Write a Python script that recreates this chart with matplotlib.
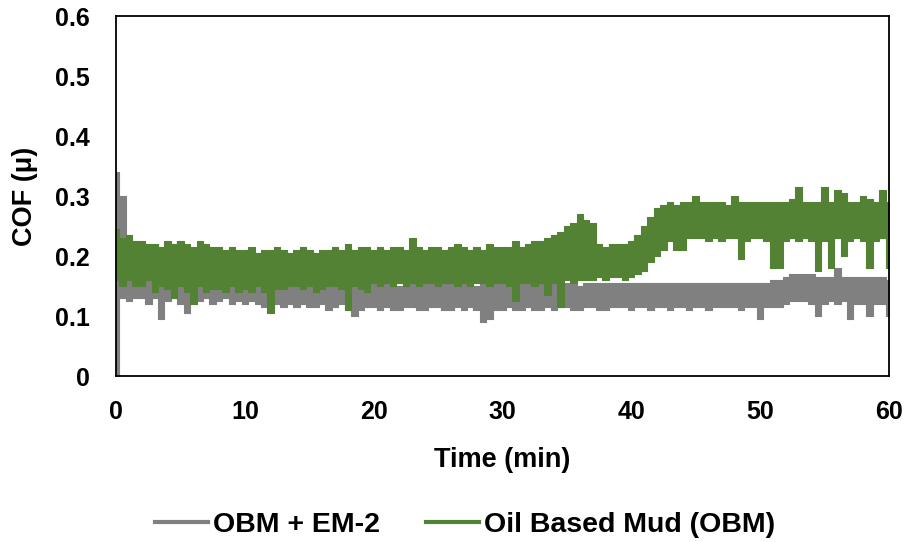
import numpy as np
import matplotlib
matplotlib.use("Agg")
import matplotlib.pyplot as plt
from matplotlib.lines import Line2D

plt.rcParams['font.family'] = ['Liberation Sans', 'DejaVu Sans']
plt.rcParams['font.weight'] = 'bold'

# readings grouped every 0.5 min; each group keeps its lowest and highest COF
time_min = np.arange(0, 60.001, 0.5)

# OBM + EM-2
em2_high = [
    0.34, 0.30, 0.17, 0.165, 0.165, 0.16, 0.16, 0.155, 0.16, 0.155,
    0.16, 0.155, 0.16, 0.155, 0.16, 0.155, 0.155, 0.16, 0.155, 0.15,
    0.155, 0.15, 0.155, 0.15, 0.15, 0.15, 0.15, 0.155, 0.15, 0.15,
    0.15, 0.15, 0.15, 0.155, 0.15, 0.15, 0.155, 0.15, 0.155, 0.15,
    0.155, 0.15, 0.155, 0.155, 0.15, 0.155, 0.155, 0.15, 0.155, 0.155,
    0.15, 0.155, 0.155, 0.15, 0.155, 0.155, 0.15, 0.155, 0.15, 0.155,
    0.155, 0.15, 0.155, 0.155, 0.155, 0.15, 0.155, 0.155, 0.155, 0.15,
    0.155, 0.155, 0.15, 0.155, 0.155, 0.155, 0.155, 0.155, 0.155, 0.155,
    0.155, 0.155, 0.155, 0.155, 0.155, 0.155, 0.155, 0.155, 0.155, 0.155,
    0.155, 0.155, 0.155, 0.155, 0.155, 0.155, 0.155, 0.155, 0.155, 0.155,
    0.155, 0.155, 0.16, 0.16, 0.165, 0.17, 0.17, 0.17, 0.17, 0.165,
    0.165, 0.165, 0.18, 0.165, 0.165, 0.165, 0.165, 0.165, 0.165, 0.165,
    0.16,
]
em2_low = [
    0.00, 0.13, 0.125, 0.13, 0.13, 0.12, 0.13, 0.095, 0.125, 0.13,
    0.12, 0.105, 0.13, 0.125, 0.13, 0.12, 0.125, 0.13, 0.12, 0.125,
    0.12, 0.125, 0.12, 0.115, 0.12, 0.12, 0.115, 0.12, 0.115, 0.12,
    0.115, 0.115, 0.12, 0.11, 0.115, 0.12, 0.11, 0.10, 0.11, 0.115,
    0.115, 0.11, 0.115, 0.11, 0.11, 0.115, 0.115, 0.11, 0.11, 0.115,
    0.115, 0.11, 0.11, 0.115, 0.11, 0.115, 0.11, 0.09, 0.095, 0.11,
    0.11, 0.115, 0.11, 0.11, 0.115, 0.11, 0.11, 0.115, 0.11, 0.115,
    0.115, 0.11, 0.11, 0.115, 0.115, 0.11, 0.11, 0.115, 0.115, 0.115,
    0.11, 0.115, 0.115, 0.11, 0.115, 0.115, 0.11, 0.115, 0.115, 0.11,
    0.115, 0.115, 0.11, 0.115, 0.115, 0.115, 0.115, 0.11, 0.115, 0.115,
    0.095, 0.115, 0.115, 0.115, 0.12, 0.125, 0.125, 0.125, 0.12, 0.10,
    0.12, 0.125, 0.12, 0.125, 0.095, 0.12, 0.12, 0.10, 0.12, 0.12,
    0.10,
]

# Oil Based Mud (OBM)
obm_high = [
    0.245, 0.23, 0.235, 0.225, 0.225, 0.22, 0.22, 0.215, 0.225, 0.22,
    0.225, 0.22, 0.215, 0.225, 0.22, 0.215, 0.215, 0.21, 0.215, 0.21,
    0.21, 0.215, 0.205, 0.21, 0.21, 0.215, 0.21, 0.205, 0.21, 0.215,
    0.21, 0.205, 0.21, 0.21, 0.215, 0.21, 0.22, 0.21, 0.215, 0.215,
    0.21, 0.215, 0.21, 0.215, 0.215, 0.21, 0.23, 0.215, 0.21, 0.215,
    0.215, 0.21, 0.215, 0.22, 0.215, 0.21, 0.215, 0.21, 0.22, 0.215,
    0.215, 0.215, 0.225, 0.215, 0.22, 0.225, 0.225, 0.23, 0.235, 0.24,
    0.25, 0.255, 0.27, 0.26, 0.255, 0.22, 0.215, 0.22, 0.22, 0.22,
    0.225, 0.235, 0.25, 0.265, 0.28, 0.285, 0.29, 0.285, 0.29, 0.29,
    0.30, 0.29, 0.29, 0.29, 0.29, 0.285, 0.30, 0.29, 0.29, 0.29,
    0.29, 0.29, 0.29, 0.29, 0.29, 0.295, 0.315, 0.29, 0.29, 0.29,
    0.315, 0.29, 0.31, 0.305, 0.29, 0.29, 0.30, 0.295, 0.29, 0.31,
    0.29,
]
obm_low = [
    0.16, 0.15, 0.16, 0.15, 0.15, 0.16, 0.14, 0.15, 0.145, 0.13,
    0.15, 0.14, 0.12, 0.15, 0.14, 0.145, 0.145, 0.14, 0.15, 0.14,
    0.145, 0.14, 0.15, 0.14, 0.105, 0.145, 0.145, 0.15, 0.15, 0.145,
    0.15, 0.14, 0.145, 0.15, 0.15, 0.145, 0.11, 0.15, 0.145, 0.14,
    0.155, 0.15, 0.155, 0.15, 0.155, 0.15, 0.155, 0.15, 0.155, 0.155,
    0.15, 0.155, 0.155, 0.15, 0.155, 0.15, 0.155, 0.155, 0.15, 0.155,
    0.155, 0.15, 0.125, 0.155, 0.155, 0.15, 0.155, 0.135, 0.155, 0.115,
    0.16, 0.155, 0.16, 0.16, 0.16, 0.165, 0.16, 0.165, 0.165, 0.16,
    0.165, 0.17, 0.175, 0.19, 0.20, 0.21, 0.225, 0.21, 0.21, 0.23,
    0.23, 0.23, 0.225, 0.23, 0.225, 0.23, 0.23, 0.195, 0.225, 0.23,
    0.23, 0.225, 0.18, 0.18, 0.225, 0.23, 0.225, 0.23, 0.225, 0.175,
    0.225, 0.18, 0.23, 0.20, 0.225, 0.23, 0.225, 0.18, 0.225, 0.23,
    0.18,
]

series_names = ['OBM + EM-2', 'Oil Based Mud (OBM)']
series_colors = ['#808080', '#548235']

fig = plt.figure(figsize=(9.07, 5.42), dpi=100)
ax = fig.add_axes([0.128, 0.306, 0.852, 0.664])

# dense friction trace shown as its min/max band
for low, high, c in [(em2_low, em2_high, series_colors[0]),
                     (obm_low, obm_high, series_colors[1])]:
    ax.fill_between(time_min, low, high, step='mid', color=c, lw=0.8, ec=c)

ax.set_xlim(0, 60)
ax.set_ylim(0, 0.6)
ax.set_xticks([0, 10, 20, 30, 40, 50, 60])
ax.set_yticks([0, 0.1, 0.2, 0.3, 0.4, 0.5, 0.6])
ax.set_yticklabels(['0', '0.1', '0.2', '0.3', '0.4', '0.5', '0.6'])
ax.tick_params(axis='both', length=0, labelsize=18)
ax.tick_params(axis='x', pad=17)
ax.tick_params(axis='y', pad=19)
for s in ax.spines.values():
    s.set_linewidth(1.3)
    s.set_color('black')

ax.set_xlabel('Time (min)', fontsize=19.5, fontweight='bold', labelpad=17)
ax.set_ylabel('COF (\u03bc)', fontsize=19.5, fontweight='bold', labelpad=12)

handles = [Line2D([], [], color=c, lw=3) for c in series_colors]
fig.legend(handles, series_names, loc='center', bbox_to_anchor=(0.513, 0.031),
           ncol=2, frameon=False, fontsize=20.5, handlelength=1.86,
           columnspacing=1.6, handletextpad=0.18)

plt.savefig('out.png', dpi=100)
